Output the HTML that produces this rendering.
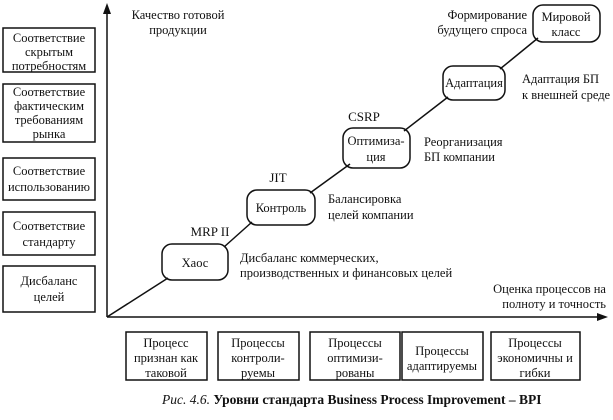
<!DOCTYPE html>
<html><head><meta charset="utf-8"><style>
body{margin:0;background:#fff}
svg text{font-family:"Liberation Serif","DejaVu Serif",serif;font-size:13px;fill:#111}
.s{font-size:12.5px}
</style></head><body>
<svg width="613" height="415" viewBox="0 0 613 415" xmlns="http://www.w3.org/2000/svg">
<g fill="none" stroke="#111" stroke-width="1.5">
<rect x="3" y="28" width="92" height="44"/>
<rect x="3" y="84" width="92" height="58"/>
<rect x="3" y="158" width="92" height="42"/>
<rect x="3" y="212" width="92" height="43"/>
<rect x="3" y="266" width="92" height="46"/>
<rect x="126" y="332" width="81" height="48"/>
<rect x="218" y="332" width="81" height="48"/>
<rect x="310" y="332" width="90" height="48"/>
<rect x="402" y="332" width="81" height="48"/>
<rect x="491" y="332" width="89" height="48"/>
<line x1="107" y1="317" x2="107" y2="12"/>
<line x1="107" y1="317" x2="598" y2="317"/>
<line x1="107" y1="317" x2="168" y2="278"/>
<line x1="224" y1="247" x2="252" y2="222"/>
<line x1="310" y1="193" x2="350" y2="164"/>
<line x1="404" y1="131" x2="448" y2="97"/>
<line x1="500" y1="69" x2="538" y2="38"/>
<rect x="162" y="244" width="66" height="36" rx="10"/>
<rect x="247" y="190" width="68" height="35" rx="10"/>
<rect x="343" y="128" width="67" height="40" rx="10"/>
<rect x="443" y="66" width="62" height="34" rx="10"/>
<rect x="533" y="5" width="67" height="37" rx="10"/>
</g>
<polygon points="107,3 103,14 111,14" fill="#111"/>
<polygon points="608,317 597,313 597,321" fill="#111"/>
<g text-anchor="middle" class="s">
<text class="s" x="49" y="42">Соответствие</text><text class="s" x="49" y="56">скрытым</text><text class="s" x="49" y="70">потребностям</text>
<text class="s" x="49" y="96">Соответствие</text><text class="s" x="49" y="110">фактическим</text><text class="s" x="49" y="124">требованиям</text><text class="s" x="49" y="138">рынка</text>
<text class="s" x="49" y="175">Соответствие</text><text class="s" x="49" y="191">использованию</text>
<text class="s" x="49" y="230">Соответствие</text><text class="s" x="49" y="246">стандарту</text>
<text class="s" x="49" y="285">Дисбаланс</text><text class="s" x="49" y="301">целей</text>
<text class="s" x="166" y="347">Процесс</text><text class="s" x="166" y="362">признан как</text><text class="s" x="166" y="377">таковой</text>
<text class="s" x="258" y="347">Процессы</text><text class="s" x="258" y="362">контроли-</text><text class="s" x="258" y="377">руемы</text>
<text class="s" x="355" y="347">Процессы</text><text class="s" x="355" y="362">оптимизи-</text><text class="s" x="355" y="377">рованы</text>
<text class="s" x="442" y="355">Процессы</text><text class="s" x="442" y="370">адаптируемы</text>
<text class="s" x="535" y="347">Процессы</text><text class="s" x="535" y="362">экономичны и</text><text class="s" x="535" y="377">гибки</text>
<text class="s" x="195" y="267">Хаос</text>
<text class="s" x="281" y="212">Контроль</text>
<text class="s" x="376" y="145">Оптимиза-</text><text class="s" x="376" y="161">ция</text>
<text class="s" x="474" y="87">Адаптация</text>
<text class="s" x="566" y="21">Мировой</text><text class="s" x="566" y="36">класс</text>
<text x="210" y="236">MRP II</text>
<text x="278" y="182">JIT</text>
<text x="364" y="121">CSRP</text>
<text class="s" x="178" y="19">Качество готовой</text><text class="s" x="178" y="34">продукции</text>
</g>
<g text-anchor="end">
<text class="s" x="527" y="19">Формирование</text><text class="s" x="527" y="34">будущего спроса</text>
<text class="s" x="606" y="293">Оценка процессов на</text><text class="s" x="606" y="308">полноту и точность</text>
</g>
<text class="s" x="522" y="83">Адаптация БП</text><text class="s" x="522" y="99">к внешней среде</text>
<text class="s" x="424" y="146">Реорганизация</text><text class="s" x="424" y="161">БП компании</text>
<text class="s" x="328" y="203">Балансировка</text><text class="s" x="328" y="219">целей компании</text>
<text class="s" x="240" y="262">Дисбаланс коммерческих,</text><text class="s" x="240" y="277">производственных и финансовых целей</text>
<text x="162" y="404" style="font-size:13.5px"><tspan font-style="italic">Рис. 4.6.</tspan> <tspan font-weight="bold">Уровни стандарта Business Process Improvement – BPI</tspan></text>
</svg>
</body></html>
